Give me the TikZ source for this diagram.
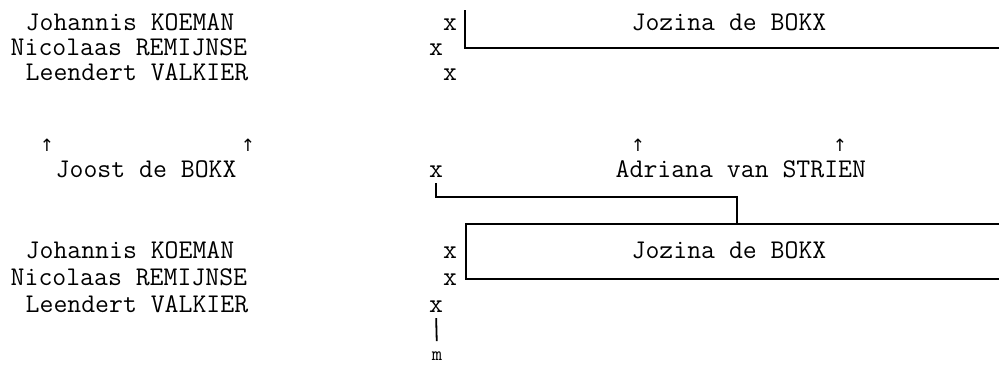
\documentclass[tikz,border=0pt]{standalone}
\usepackage{fontspec}
\newfontfamily\arrowfont{DejaVu Sans}
\usetikzlibrary{positioning}
\tikzset{
    person/.style={font=\ttfamily\fontsize{27}{27}\selectfont, inner sep=0pt, anchor=base west},
    spouse/.style={font=\ttfamily\fontsize{27}{27}\selectfont, inner sep=0pt, anchor=base},
    xmark/.style={font=\ttfamily\fontsize{27}{27}\selectfont, inner sep=0pt, anchor=base},
    uparr/.style={font=\arrowfont\fontsize{17}{17}\selectfont, inner sep=0pt, anchor=base},
    link/.style={line width=1.8pt}
}
\begin{document}
\begin{tikzpicture}[x=1pt, y=-1pt]
  \useasboundingbox (0,0) rectangle (999,365);
  % upper family
  \node[person] (koemanA) at (25.5,30) {Johannis KOEMAN};
  \node[person] (remijnseA) at (10.5,55) {Nicolaas REMIJNSE};
  \node[person] (valkierA) at (25.5,80) {Leendert VALKIER};
  \node[xmark] (koemanAx) at (450,30) {x};
  \node[xmark] (remijnseAx) at (436,55) {x};
  \node[xmark] (valkierAx) at (450,80) {x};
  \node[spouse] (jozinaA) at (729,30) {Jozina de BOKX};
  % parents
  \node[uparr] (upA) at (47,151) {↑};
  \node[uparr] (upB) at (248,151) {↑};
  \node[uparr] (upC) at (638,151) {↑};
  \node[uparr] (upD) at (840,151) {↑};
  \node[person] (joost) at (55.5,177) {Joost de BOKX};
  \node[xmark] (joostx) at (436,177) {x};
  \node[person] (adriana) at (615.5,177) {Adriana van STRIEN};
  % lower family
  \node[person] (koemanB) at (25.5,258) {Johannis KOEMAN};
  \node[person] (remijnseB) at (10.5,285) {Nicolaas REMIJNSE};
  \node[person] (valkierB) at (25.5,312) {Leendert VALKIER};
  \node[xmark] (koemanBx) at (450,258) {x};
  \node[xmark] (remijnseBx) at (450,285) {x};
  \node[xmark] (valkierBx) at (436,312) {x};
  \node[spouse] (jozinaB) at (729,258) {Jozina de BOKX};
  \node[font=\ttfamily\fontsize{20}{20}\selectfont, inner sep=0pt, anchor=base] (mm) at (437,360) {m};
  % connectors
  \coordinate (topbar) at (465,10);
  \coordinate (topend) at (999,48);
  \coordinate (join) at (737,197);
  \coordinate (boxtl) at (466,224);
  \coordinate (boxtr) at (999,224);
  \coordinate (boxbr) at (999,279);
  \draw[link] (topbar) |- (topend);
  \draw[link, shorten <=6pt] (joostx.south) |- (join) -- (join |- boxtl);
  \draw[link] (boxtr) -- (boxtl) |- (boxbr);
  \draw[link, shorten <=6pt, shorten >=10pt] (valkierBx.south) -- (mm.north);
\end{tikzpicture}
\end{document}
